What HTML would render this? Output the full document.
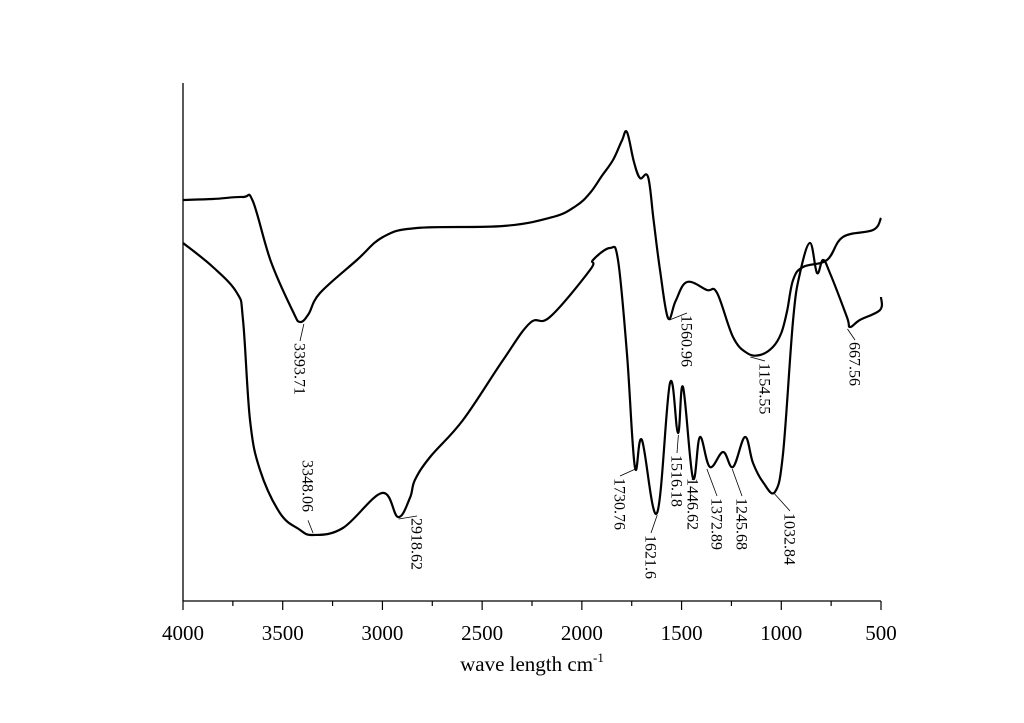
<!DOCTYPE html>
<html><head><meta charset="utf-8">
<style>
html,body{margin:0;padding:0;background:#fff;}
svg{display:block;font-family:"Liberation Serif",serif;}
</style></head>
<body>
<svg id="chart" width="1024" height="723" viewBox="0 0 1024 723">
  <g id="axes"></g>
  <g id="series"></g>
  <g id="annots"></g>
  <text x="532" y="671" text-anchor="middle" font-size="21">wave length cm<tspan font-size="13" dy="-9">-1</tspan></text>
</svg>
<script>
const xTicks = [4000,3500,3000,2500,2000,1500,1000,500];
const upperWN = [4000,3850,3700,3650,3560,3450,3413,3370,3313,3128,2997,2827,2395,2145,2030,1959,1900,1844,1800,1774,1740,1709,1668,1640,1608,1568,1530,1473,1373,1322,1242,1172,1107,1042,1000,971,941,891,771,691,540,500];
const upperVal = [401,402,404,400,340,290,279,287,308,341,364,373,375,384,395,408,425,441,460,469,440,423,424,380,331,283,300,319,311,308,264,248,246,254,268,290,321,334,341,364,371,383];
const lowerWN = [4000,3850,3729,3699,3664,3614,3514,3420,3348,3198,3002,2922,2862,2837,2761,2596,2395,2260,2160,1959,1944,1859,1819,1774,1734,1699,1623,1558,1518,1493,1443,1408,1358,1292,1242,1182,1142,1092,1032,991,941,906,856,821,791,756,671,656,606,505,500];
const lowerVal = [358,334,308,281,181,131,88,72,66,73,108,84,103,121,144,181,241,278,284,331,341,353,341,248,134,161,88,218,168,214,123,164,134,149,134,164,138,119,109,148,281,328,358,328,341,328,284,274,281,291,304];
const peakLabels = ["3393.71","3348.06","2918.62","1560.96","1154.55","667.56","1730.76","1621.6","1516.18","1446.62","1372.89","1245.68","1032.84"];
const peakWN = [3394,3348,2919,1561,1155,668,1731,1622,1516,1447,1373,1246,1033];
const peakVal = [279,66,84,283,246,274,134,88,168,123,134,134,109];
// label layout (not data)
const labelTop = [343,460,518,315,363,342,478,535,455,478,498,498,513];
const labelCx = [300,308,417,687,765,855,620,651,677,693,717,742,790];
const labelAbove = [0,1,0,0,0,0,0,0,0,0,0,0,0];

const X0=183, X1=881, Y0=601, Y1=83;
const xs = v => X0 + (4000 - v) / 3500 * (X1 - X0);
const ys = v => Y0 - v;
const NS = "http://www.w3.org/2000/svg";
function mk(tag, attrs, parent){const e=document.createElementNS(NS,tag);for(const k in attrs)e.setAttribute(k,attrs[k]);parent.appendChild(e);return e;}

const axes=document.getElementById('axes');
let l=mk('line',{x1:X0,y1:Y1,x2:X0,y2:Y0,stroke:'#000','stroke-width':1.3},axes);


l=mk('line',{x1:X0,y1:Y0,x2:X1,y2:Y0,stroke:'#000','stroke-width':1.3},axes);


for(let v=4000; v>=500; v-=250){
  const major = v%500===0;
  const t=mk('line',{x1:xs(v),y1:Y0,x2:xs(v),y2:Y0+(major?9:5),stroke:'#000','stroke-width':1.2},axes);
  
  
}
xTicks.forEach(v=>{
  const t=mk('text',{x:xs(v),y:640,'text-anchor':'middle','font-size':21},axes);
  t.textContent=v;
  
  
});

const series=document.getElementById('series');
function path(wn,val,name){
  const P=wn.map((w,i)=>[xs(w),ys(val[i])]);
  let d='M'+P[0][0].toFixed(1)+','+P[0][1].toFixed(1);
  const k=0.18;
  for(let i=0;i<P.length-1;i++){
    const p0=P[Math.max(0,i-1)],p1=P[i],p2=P[i+1],p3=P[Math.min(P.length-1,i+2)];
    const c1=[p1[0]+(p2[0]-p0[0])*k,p1[1]+(p2[1]-p0[1])*k];
    const c2=[p2[0]-(p3[0]-p1[0])*k,p2[1]-(p3[1]-p1[1])*k];
    d+=` C${c1[0].toFixed(1)},${c1[1].toFixed(1)} ${c2[0].toFixed(1)},${c2[1].toFixed(1)} ${p2[0].toFixed(1)},${p2[1].toFixed(1)}`;
  }
  const p=mk('path',{d:d,fill:'none',stroke:'#000','stroke-width':2.2,'stroke-linejoin':'round'},series);
  
  
}
path(upperWN,upperVal,'upper-spectrum-line');
path(lowerWN,lowerVal,'lower-spectrum-line');

const annots=document.getElementById('annots');
peakLabels.forEach((lab,i)=>{
  const px=xs(peakWN[i]), py=ys(peakVal[i]);
  const endY = labelAbove[i] ? labelTop[i]+lab.length*8.2+3 : labelTop[i]-2;
  const startY = labelAbove[i] ? py-2 : py+2;
  const ln=mk('line',{x1:px,y1:startY,x2:labelCx[i],y2:endY,stroke:'#000','stroke-width':0.8},annots);
  
  
  const t=mk('text',{x:0,y:0,'font-size':16,transform:`translate(${labelCx[i]-5.5},${labelTop[i]}) rotate(90)`},annots);
  t.textContent=lab;
  
  
});
</script>
</body></html>
